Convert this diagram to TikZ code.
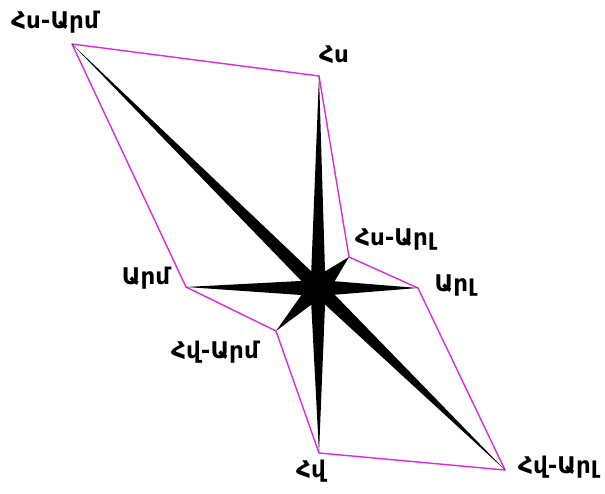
\documentclass[tikz,border=0pt]{standalone}
\usepackage{fontspec}
\usetikzlibrary{calc}
\newfontfamily\armfont{DejaVu Sans}
\definecolor{rim}{RGB}{225,40,225}

\begin{document}
\begin{tikzpicture}[x=1pt, y=1pt,
  lbl/.style={font=\armfont\bfseries\fontsize{23}{23}\selectfont, inner sep=0pt}]
\useasboundingbox (0,0) rectangle (605,494);
\coordinate (c) at (318,206);
\coordinate (nw) at (72,450);
\coordinate (n) at (319,418);
\coordinate (ne) at (349,237);
\coordinate (e) at (418,206);
\coordinate (se) at (505,24);
\coordinate (s) at (319,41);
\coordinate (sw) at (276,163);
\coordinate (w) at (186,207);
\draw[rim, line width=1.4pt, line join=round]
  (nw) -- (n) -- (ne) -- (e) -- (se) -- (s) -- (sw) -- (w) -- cycle;
\fill (n) -- ($(c)+(67:18)$) -- (ne) -- ($(c)+(22:18)$) -- (e)
  -- ($(c)+(-22:18)$) -- (se) -- ($(c)+(-67:18)$) -- (s)
  -- ($(c)+(248:18)$) -- (sw) -- ($(c)+(203:18)$) -- (w)
  -- ($(c)+(157:18)$) -- (nw) -- ($(c)+(112:18)$) -- cycle;
\fill (c) circle (12);
\node[lbl] (lnw) at (55,472) {Հս-Արմ};
\node[lbl] (ln) at (334,439) {Հս};
\node[lbl] (lne) at (395,254) {Հս-Արլ};
\node[lbl] (le) at (455,208) {Արլ};
\node[lbl] (lw) at (146,216) {Արմ};
\node[lbl] (lsw) at (215,142) {Հվ-Արմ};
\node[lbl] (ls) at (311,23) {Հվ};
\node[lbl] (lse) at (558,27) {Հվ-Արլ};
\end{tikzpicture}
\end{document}
